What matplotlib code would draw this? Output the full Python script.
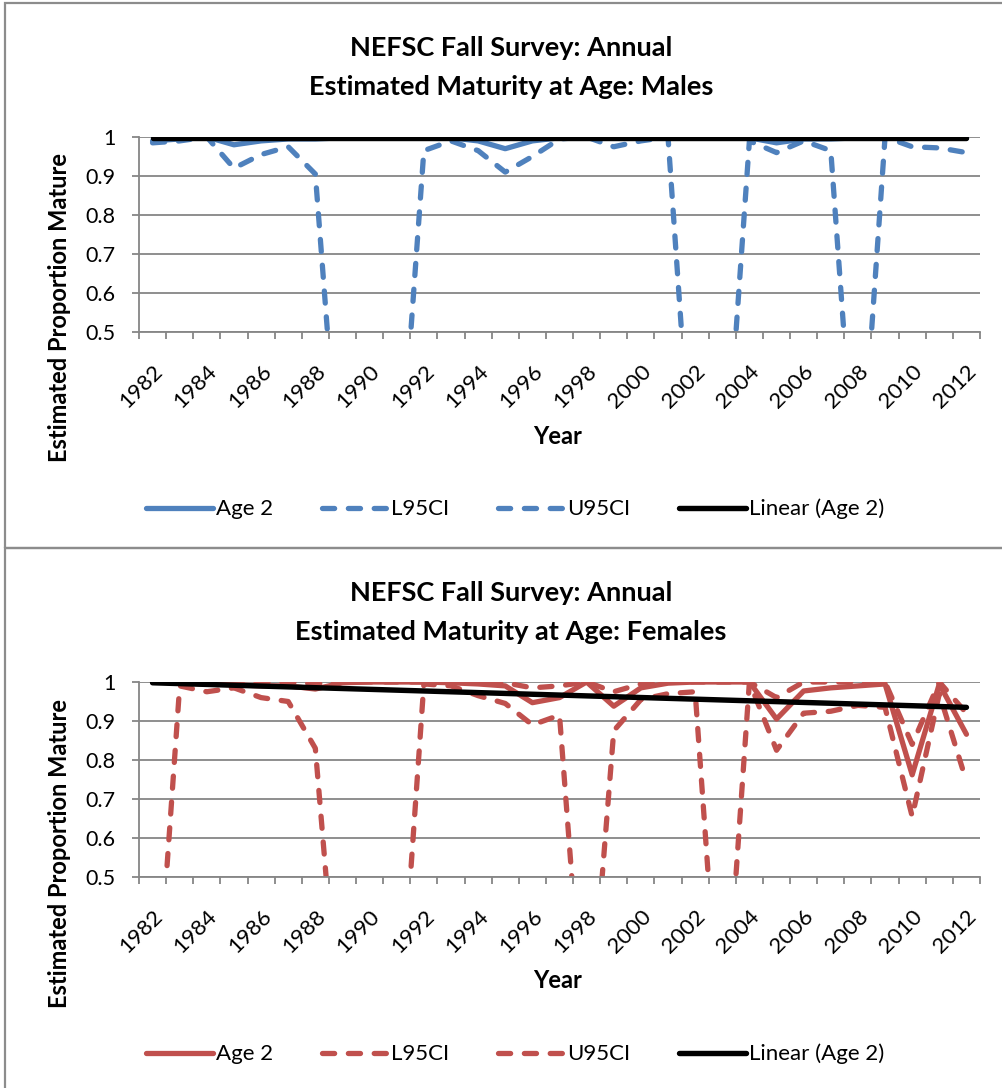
import matplotlib.pyplot as plt
from matplotlib.lines import Line2D
from matplotlib.patches import Rectangle
from matplotlib.transforms import ScaledTranslation

plt.rcParams['font.family'] = ['Lato', 'DejaVu Sans']

years = list(range(1982, 2013))

male_age2 = [0.990, 0.995, 1.000, 0.980, 0.990, 0.995, 0.995, 0.998, 1.000, 1.000,
             1.000, 0.998, 0.990, 0.970, 0.990, 0.998, 1.000, 0.998, 1.000, 1.000,
             1.000, 1.000, 0.998, 0.985, 0.995, 0.995, 0.998, 1.000, 0.998, 0.998,
             0.998]
male_l95 = [0.985, 0.990, 1.000, 0.920, 0.955, 0.975, 0.905, 0.000, 0.000, 0.000,
            0.965, 0.990, 0.965, 0.910, 0.950, 0.995, 1.000, 0.975, 0.990, 1.000,
            0.000, 0.000, 0.990, 0.960, 0.990, 0.965, 0.000, 1.000, 0.975, 0.972,
            0.960]
male_u95 = [1.000, 1.000, 1.000, 1.000, 1.000, 1.000, 1.000, 1.000, 1.000, 1.000,
            1.000, 1.000, 1.000, 1.000, 1.000, 1.000, 1.000, 1.000, 1.000, 1.000,
            1.000, 1.000, 1.000, 1.000, 1.000, 1.000, 1.000, 1.000, 1.000, 1.000,
            1.000]

female_age2 = [1.000, 0.998, 0.995, 0.993, 0.990, 0.990, 0.982, 0.998, 1.000, 1.000,
               1.000, 0.998, 0.995, 0.990, 0.947, 0.960, 1.000, 0.938, 0.985, 0.997,
               1.000, 1.000, 1.000, 0.905, 0.977, 0.985, 0.990, 0.995, 0.762, 0.995,
               0.866]
female_l95 = [0.000, 0.990, 0.975, 0.985, 0.960, 0.950, 0.830, 0.000, 0.000, 0.000,
              0.995, 0.990, 0.965, 0.945, 0.890, 0.915, 0.000, 0.875, 0.955, 0.970,
              0.975, 0.000, 1.000, 0.825, 0.920, 0.925, 0.940, 0.935, 0.655, 0.970,
              0.745]
female_u95 = [1.000, 1.000, 1.000, 1.000, 1.000, 1.000, 0.995, 1.000, 1.000, 1.000,
              1.000, 1.000, 1.000, 0.998, 0.985, 0.990, 1.000, 0.975, 0.995, 1.000,
              1.000, 1.000, 1.000, 0.960, 1.000, 1.000, 1.000, 1.000, 0.840, 1.000,
              0.920]

# linear trend of Age 2, read at the first and last year
trend_years = [1982, 2012]
male_trend = [0.997, 0.997]
female_trend = [0.998, 0.935]

y_ticks = [0.5, 0.6, 0.7, 0.8, 0.9, 1.0]
y_tick_labels = ['0.5', '0.6', '0.7', '0.8', '0.9', '1']
series_labels = ['Age 2', 'L95CI', 'U95CI', 'Linear (Age 2)']

W, H = 1003, 1088
GRID = '#868686'
DASH = (0, (2.3, 2.6))
LW = 3.8


def fx(px):
    return px / W


def fy(py):
    return 1 - py / H


def draw_panel(fig, top, age2, l95, u95, trend, color, sex):
    # top = pixel row of the chart's frame
    plot_top = top + 134
    plot_bottom = top + 329
    ax = fig.add_axes([fx(139), fy(plot_bottom), fx(980) - fx(139), fy(plot_top) - fy(plot_bottom)])

    ax.plot(years, age2, color=color, lw=LW, solid_capstyle='round', solid_joinstyle='round')
    ax.plot(years, l95, color=color, lw=LW, ls=DASH, dash_capstyle='round')
    ax.plot(years, u95, color=color, lw=LW, ls=DASH, dash_capstyle='round')
    ax.plot(trend_years, trend, color='black', lw=3.9, solid_capstyle='round')

    ax.set_xlim(1981.5, 2012.5)
    ax.set_ylim(0.5, 1.0)
    ax.set_yticks(y_ticks)
    ax.set_yticklabels(y_tick_labels, fontsize=15.5)
    ax.set_xticks(years[::2])
    ax.set_xticklabels([str(y) for y in years[::2]], rotation=45, ha='right', va='top',
                       rotation_mode='anchor', fontsize=16)
    # shift the slanted year labels so they end at their category
    shift = ScaledTranslation(-11 / 100, 0, fig.dpi_scale_trans)
    for lab in ax.get_xticklabels():
        lab.set_transform(lab.get_transform() + shift)
    ax.set_xticks([y - 0.5 for y in years] + [2012.5], minor=True)
    ax.tick_params(axis='x', which='major', length=0, pad=21)
    ax.tick_params(axis='x', which='minor', length=5, width=1.3, color=GRID)
    ax.tick_params(axis='y', length=5, width=1.3, color=GRID, pad=12)
    ax.grid(axis='y', color=GRID, lw=1.3)
    ax.set_axisbelow(True)
    for side in ['top', 'right']:
        ax.spines[side].set_visible(False)
    for side in ['left', 'bottom']:
        ax.spines[side].set_color(GRID)
        ax.spines[side].set_linewidth(1.3)

    # chart frame and titles
    fig.patches.append(Rectangle((fx(5), fy(top + 545)), 1.2, fy(top) - fy(top + 545),
                                 transform=fig.transFigure, fill=False, ec='#8c8c8c', lw=1.6))
    fig.text(fx(511), fy(top + 45), 'NEFSC Fall Survey: Annual', ha='center', va='center',
             fontsize=19.5, fontweight='bold')
    fig.text(fx(511), fy(top + 84), 'Estimated Maturity at Age: ' + sex, ha='center', va='center',
             fontsize=19.5, fontweight='bold')
    fig.text(fx(60), fy(top + 305), 'Estimated Proportion Mature', rotation=90, ha='center',
             va='center', fontsize=17, fontweight='bold')
    fig.text(fx(558), fy(top + 433), 'Year', ha='center', va='center', fontsize=17, fontweight='bold')

    handles = [Line2D([], [], color=color, lw=LW, solid_capstyle='round'),
               Line2D([], [], color=color, lw=LW, ls=DASH, dash_capstyle='round'),
               Line2D([], [], color=color, lw=LW, ls=DASH, dash_capstyle='round'),
               Line2D([], [], color='black', lw=3.9, solid_capstyle='round')]
    fig.legend(handles, series_labels, loc='center', bbox_to_anchor=(fx(515), fy(top + 506)),
               ncol=4, frameon=False, fontsize=16, handlelength=3.0, handletextpad=0.12,
               columnspacing=2.2)


fig = plt.figure(figsize=(W / 100, H / 100), dpi=100)
draw_panel(fig, 3, male_age2, male_l95, male_u95, male_trend, '#4F81BD', 'Males')
draw_panel(fig, 548, female_age2, female_l95, female_u95, female_trend, '#C0504D', 'Females')
fig.savefig('out.png', dpi=100)
